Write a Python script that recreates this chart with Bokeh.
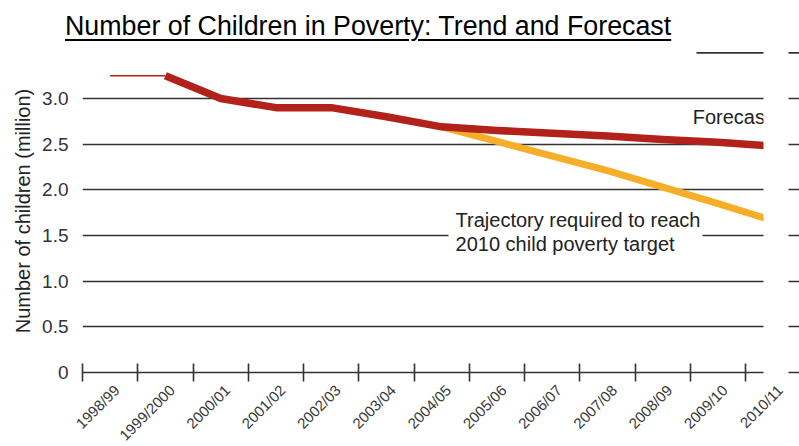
import math
from bokeh.plotting import figure
from bokeh.models import FixedTicker, Div, Range1d
from bokeh.layouts import column
from bokeh.core.properties import value
from bokeh.embed import file_html
from bokeh.resources import INLINE

# ---------------- data ----------------
categories = ["1998/99", "1999/2000", "2000/01", "2001/02", "2002/03", "2003/04",
              "2004/05", "2005/06", "2006/07", "2007/08", "2008/09", "2009/10", "2010/11"]
# thin first segment (1998/99 -> 1999/2000)
early_cats = ["1998/99", "1999/2000"]
early_values = [3.25, 3.25]
# trend and forecast (thick red), 1999/2000 -> 2010/11
trend_cats = ["1999/2000", "2000/01", "2001/02", "2002/03", "2003/04", "2004/05",
              "2005/06", "2006/07", "2007/08", "2008/09", "2009/10", "2010/11"]
trend_values = [3.25, 3.00, 2.90, 2.90, 2.80, 2.69, 2.65, 2.62, 2.59, 2.55, 2.52, 2.48]
# trajectory required to reach target (orange), 2004/05 -> 2010/11
target_cats = ["2004/05", "2005/06", "2006/07", "2007/08", "2008/09", "2009/10", "2010/11"]
target_values = [2.69, 2.53, 2.37, 2.21, 2.03, 1.85, 1.66]

y_ticks = [0, 0.5, 1.0, 1.5, 2.0, 2.5, 3.0]
y_tick_labels = ["0", "0.5", "1.0", "1.5", "2.0", "2.5", "3.0"]

title_text = "Number of Children in Poverty: Trend and Forecast"
y_axis_title = "Number of children (million)"
forecast_text = "Forecast"
trajectory_lines = ["Trajectory required to reach", "2010 child poverty target"]

# ---------------- geometry ----------------
FONT = "Liberation Sans"
RED = "#B2221A"
ORANGE = "#F6AD28"
GRID = "#333333"

LABEL_SHIFT = 0.12           # category centre sits a little left of its label anchor
idx = {c: i for i, c in enumerate(categories)}
def cx(c):
    return idx[c] - LABEL_SHIFT

x_start = -0.5 - LABEL_SHIFT
x_end = x_start + 717 / 55.27
y_start = -0.0328
y_end = 3.5695

p = figure(width=799, height=401, frame_width=717, frame_height=329,
           output_backend="svg", toolbar_location=None,
           x_range=Range1d(x_start, x_end), y_range=Range1d(y_start, y_end),
           min_border_left=82, min_border_right=0, min_border_top=1, min_border_bottom=71)
p.outline_line_color = None
p.background_fill_color = "white"
p.border_fill_color = "white"

# grid
p.xgrid.visible = False
p.ygrid.ticker = FixedTicker(ticks=y_ticks)
p.ygrid.grid_line_color = GRID
p.ygrid.grid_line_width = 1.6

# top (3.5) gridline only partly visible
p.segment(x0=[x_start + 614 / 55.27], y0=[3.5], x1=[x_end], y1=[3.5],
          line_color=GRID, line_width=1.6)

# y axis
p.yaxis.ticker = FixedTicker(ticks=y_ticks)
p.yaxis.major_label_overrides = {t: l for t, l in zip(y_ticks, y_tick_labels)}
p.yaxis.axis_line_color = None
p.yaxis.major_tick_line_color = None
p.yaxis.minor_tick_line_color = None
p.yaxis.major_label_text_font = FONT
p.yaxis.major_label_text_font_size = "19px"
p.yaxis.major_label_text_color = "#333333"
p.yaxis.major_label_standoff = 8
p.yaxis.axis_label = y_axis_title
p.yaxis.axis_label_text_font = FONT
p.yaxis.axis_label_text_font_size = "20px"
p.yaxis.axis_label_text_font_style = "normal"
p.yaxis.axis_label_text_color = "#222222"
p.yaxis.axis_label_standoff = 5

# x axis: labels at category anchors, tick marks at category boundaries
boundaries = [i - 0.5 - LABEL_SHIFT for i in range(len(categories) + 1)]
p.xaxis.ticker = FixedTicker(ticks=list(range(len(categories))), minor_ticks=boundaries)
p.xaxis.major_label_overrides = {i: c for i, c in enumerate(categories)}
p.xaxis.axis_line_color = None
p.xaxis.major_tick_line_color = None
p.xaxis.major_tick_in = 0
p.xaxis.major_tick_out = 0
p.xaxis.minor_tick_line_color = GRID
p.xaxis.minor_tick_line_width = 1.6
p.xaxis.minor_tick_in = 12
p.xaxis.minor_tick_out = 6
p.xaxis.major_label_orientation = math.pi / 4
p.xaxis.major_label_text_font = FONT
p.xaxis.major_label_text_font_size = "15px"
p.xaxis.major_label_text_color = "#383838"
p.xaxis.major_label_standoff = 6

# white box behind the annotation text
p.quad(left=[x_start + 366 / 55.27], right=[x_start + 620 / 55.27],
       bottom=[(372 - 258) / 91.33], top=[(372 - 205) / 91.33],
       fill_color="white", line_color=None)

# lines
p.line([cx(c) for c in target_cats], target_values, line_color=ORANGE, line_width=7,
       line_join="round")
p.line([cx(c) for c in early_cats], early_values, line_color=RED, line_width=1.6)
p.line([cx(c) for c in trend_cats], trend_values, line_color=RED, line_width=7.5,
       line_join="round")

# annotations
p.text(x=[10.42], y=[2.80], text=[forecast_text], text_font=value(FONT),
       text_font_size="20px", text_color="#222222", text_baseline="alphabetic")
p.text(x=[6.13, 6.13], y=[1.668, 1.402], text=trajectory_lines, text_font=value(FONT),
       text_font_size="20px", text_color="#222222", text_baseline="alphabetic")

# white gap at right edge (image crop)
p.quad(left=[x_start + 681 / 55.27], right=[x_start + 706 / 55.27],
       bottom=[y_start - 1], top=[y_end + 1], fill_color="white", line_color=None)

title_div = Div(
    text=('<div style="padding:11px 0 0 65px; font-family:\'Liberation Sans\', Arial, sans-serif; '
          'font-size:26.8px; line-height:30px; white-space:nowrap; color:#000;">'
          '<span style="text-decoration:underline; text-decoration-thickness:2px; '
          'text-underline-offset:4px;">' + title_text + '</span></div>'),
    width=799, height=45, margin=0)

layout = column(title_div, p, spacing=0)
open("out.html", "w").write(file_html(layout, INLINE))
